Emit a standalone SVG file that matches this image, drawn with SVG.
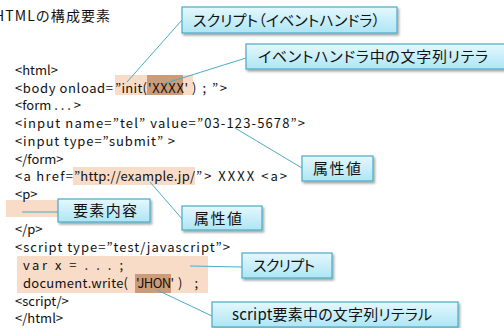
<svg xmlns="http://www.w3.org/2000/svg" width="504" height="328" viewBox="0 0 504 328">
  <defs>
    <linearGradient id="boxFill" x1="0" y1="0" x2="0" y2="1">
      <stop offset="0" stop-color="#e4f8fd"/>
      <stop offset="1" stop-color="#aee5f5"/>
    </linearGradient>
    <filter id="shadow" x="-10%" y="-20%" width="125%" height="160%">
      <feDropShadow dx="1.5" dy="2" stdDeviation="1.2" flood-color="#000" flood-opacity="0.35"/>
    </filter>
  </defs>
  <style>
    text { font-family: "Noto Sans CJK JP", "Noto Sans", sans-serif; fill: #111; }
    .code { font-family: "Noto Sans", "Noto Sans CJK JP", sans-serif; font-size: 13px; }
    .title { font-size: 14px; }
    .label { font-size: 15px; font-feature-settings: "palt"; }
    .hl { fill: #f9dcc8; }
    .hl-dark { fill: #cc9b78; }
    .box { fill: url(#boxFill); stroke: #4aaac5; stroke-width: 1.2; filter: url(#shadow); }
    .conn { stroke: #4bacc6; stroke-width: 1; fill: none; }
  </style>

  <rect width="504" height="328" fill="#fff"/>

  <!-- highlighted spans in the markup -->
  <g id="highlights">
    <rect class="hl" x="115" y="75" width="78" height="20"/>
    <rect class="hl-dark" x="147" y="75" width="36" height="20"/>
    <rect class="hl" x="73" y="167" width="122" height="18"/>
    <rect class="hl" x="6" y="200" width="52" height="17"/>
    <rect class="hl" x="17" y="256" width="191" height="37"/>
    <rect class="hl-dark" x="135" y="274" width="36" height="19"/>
  </g>

  <text class="title" x="-6" y="21" textLength="116">HTMLの構成要素</text>

  <!-- markup listing -->
  <g id="listing" class="code" xml:space="preserve">
    <text x="15" y="75">&lt;html&gt;</text>
    <text y="92.5"><tspan x="15" textLength="98">&lt;body  onload=</tspan><tspan x="115" textLength="32">”init(</tspan><tspan x="148" textLength="40">'XXXX'</tspan><tspan x="192" textLength="35">) ; ”&gt;</tspan></text>
    <text x="15" y="110">&lt;form . . . &gt;</text>
    <text x="15" y="128" textLength="290">&lt;input  name=”tel”  value=”03-123-5678”&gt;</text>
    <text x="15" y="145.5" textLength="160">&lt;input  type=”submit” &gt;</text>
    <text x="15" y="163.5">&lt;/form&gt;</text>
    <text y="181"><tspan x="15" textLength="58">&lt;a href=</tspan><tspan x="74" textLength="121">”http://example.jp/</tspan><tspan x="196" textLength="91">”&gt; XXXX &lt;a&gt;</tspan></text>
    <text x="15" y="199">&lt;p&gt;</text>
    <text x="15" y="234">&lt;/p&gt;</text>
    <text x="15" y="252" textLength="215">&lt;script  type=”test/javascript”&gt;</text>
    <text x="23" y="270" textLength="100">var  x  =  . . . ;</text>
    <text y="288"><tspan x="23" textLength="105">document.write(</tspan><tspan x="136" textLength="38">'JHON'</tspan><tspan x="178" textLength="20">) ;</tspan></text>
    <text x="15" y="305.5">&lt;script/&gt;</text>
    <text x="15" y="323">&lt;/html&gt;</text>
  </g>

  <!-- leader lines from the callouts -->
  <g id="connectors">
    <line class="conn" x1="182" y1="20" x2="127" y2="82"/>
    <line class="conn" x1="246" y1="58" x2="163" y2="84"/>
    <line class="conn" x1="302" y1="168" x2="235" y2="128"/>
    <line class="conn" x1="22" y1="212" x2="58" y2="212"/>
    <line class="conn" x1="183" y1="220" x2="150" y2="182"/>
    <line class="conn" x1="190" y1="266" x2="242" y2="267"/>
    <line class="conn" x1="157" y1="290" x2="212" y2="316"/>
  </g>

  <g id="callout-handler">
    <rect class="box" x="182" y="7" width="215" height="26"/>
    <text class="label" x="193" y="26" textLength="187">スクリプト（イベントハンドラ）</text>
  </g>
  <g id="callout-handler-literal">
    <rect class="box" x="246" y="44" width="262" height="25"/>
    <text class="label" x="258" y="62" textLength="230">イベントハンドラ中の文字列リテラ</text>
  </g>
  <g id="callout-attr-value">
    <rect class="box" x="302" y="156" width="71" height="25"/>
    <text class="label" x="313" y="174" textLength="48">属性値</text>
  </g>
  <g id="callout-content">
    <rect class="box" x="58" y="199" width="92" height="23"/>
    <text class="label" x="73" y="216" textLength="64">要素内容</text>
  </g>
  <g id="callout-href-value">
    <rect class="box" x="182" y="206" width="80" height="24"/>
    <text class="label" x="194" y="224" textLength="48">属性値</text>
  </g>
  <g id="callout-script">
    <rect class="box" x="242" y="253" width="90" height="25"/>
    <text class="label" x="253" y="271" textLength="62">スクリプト</text>
  </g>
  <g id="callout-script-literal">
    <rect class="box" x="212" y="302" width="246" height="25"/>
    <text class="label" x="232" y="320" textLength="200">script要素中の文字列リテラル</text>
  </g>
</svg>
